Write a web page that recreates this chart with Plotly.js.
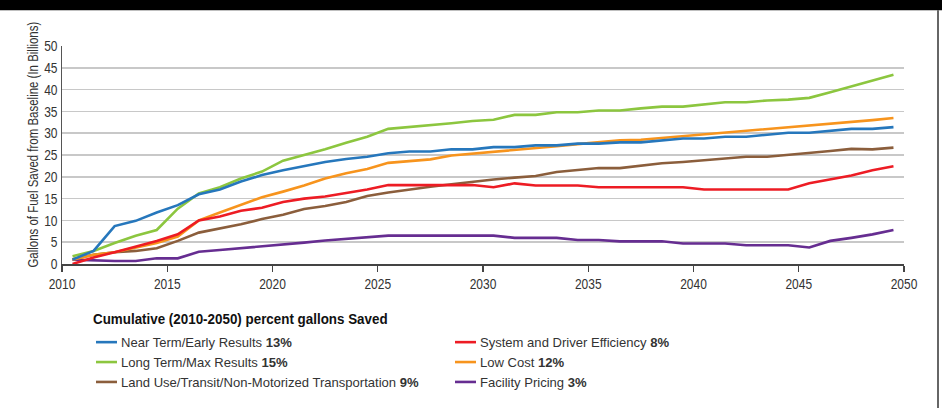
<!DOCTYPE html>
<html>
<head>
<meta charset="utf-8">
<script src="https://cdn.plot.ly/plotly-3.0.1.min.js"></script>
<style>
html,body{margin:0;padding:0;background:#fff;}
#chart{width:942px;height:408px;}
</style>
</head>
<body>
<div id="chart"></div>
<script>
// Years (points sit mid-year, between the year ticks)
const years = [2010,2011,2012,2013,2014,2015,2016,2017,2018,2019,2020,2021,2022,2023,2024,2025,2026,2027,2028,2029,2030,2031,2032,2033,2034,2035,2036,2037,2038,2039,2040,2041,2042,2043,2044,2045,2046,2047,2048,2049];

const nearTerm = [1.0,3.0,8.7,9.9,11.8,13.5,16.0,17.1,18.9,20.4,21.5,22.5,23.4,24.1,24.6,25.4,25.8,25.8,26.3,26.3,26.8,26.8,27.2,27.2,27.6,27.6,27.9,27.9,28.3,28.8,28.8,29.2,29.2,29.6,30.1,30.1,30.5,31.0,31.0,31.4];
const longTerm = [1.8,3.0,4.8,6.5,7.8,12.7,16.2,17.6,19.6,21.2,23.7,25.0,26.3,27.8,29.2,31.0,31.4,31.9,32.3,32.8,33.1,34.2,34.2,34.8,34.8,35.2,35.2,35.7,36.1,36.1,36.6,37.1,37.1,37.5,37.7,38.1,39.4,40.7,42.0,43.4];
const landUse = [1.1,2.1,2.7,3.0,3.6,5.3,7.2,8.1,9.1,10.3,11.3,12.6,13.3,14.2,15.6,16.4,17.1,17.7,18.3,18.9,19.4,19.8,20.2,21.1,21.5,22.0,22.0,22.6,23.1,23.4,23.8,24.2,24.6,24.6,25.0,25.5,25.9,26.4,26.3,26.7];
const systemEff = [0.0,1.5,2.7,4.0,5.3,6.8,10.0,10.9,12.2,12.9,14.2,15.0,15.5,16.3,17.1,18.1,18.1,18.1,18.1,18.1,17.6,18.5,18.0,18.0,18.0,17.6,17.6,17.6,17.6,17.6,17.1,17.1,17.1,17.1,17.1,18.5,19.4,20.3,21.5,22.4];
const lowCost = [1.0,2.1,2.7,3.8,4.8,6.3,10.0,11.8,13.5,15.3,16.6,18.0,19.6,20.8,21.8,23.2,23.6,24.0,24.9,25.3,25.7,26.1,26.5,27.0,27.5,27.9,28.4,28.5,28.9,29.3,29.7,30.1,30.5,31.0,31.4,31.8,32.2,32.6,33.0,33.5];
const facility = [1.0,0.8,0.7,0.7,1.3,1.3,2.8,3.2,3.6,4.1,4.5,4.9,5.4,5.8,6.1,6.5,6.5,6.5,6.5,6.5,6.5,6.0,6.0,6.0,5.5,5.5,5.2,5.2,5.2,4.7,4.7,4.7,4.3,4.3,4.3,3.8,5.3,6.0,6.8,7.8];

const seriesNames = [
  'Near Term/Early Results <b>13%</b>',
  'System and Driver Efficiency <b>8%</b>',
  'Long Term/Max Results <b>15%</b>',
  'Low Cost <b>12%</b>',
  'Land Use/Transit/Non-Motorized Transportation <b>9%</b>',
  'Facility Pricing <b>3%</b>'
];
const seriesData = [nearTerm, systemEff, longTerm, lowCost, landUse, facility];
const seriesColors = ['#2677bc','#ed1c24','#8cc63f','#f7941d','#8b5e3c','#662d91'];

const xTickVals = [2010,2015,2020,2025,2030,2035,2040,2045,2050];
const yTickVals = [0,5,10,15,20,25,30,35,40,45,50];
const yTitle = 'Gallons of Fuel Saved from Baseline (In Billions)';
const legendTitle = 'Cumulative (2010-2050) percent gallons Saved';

const xMid = years.map(y => y + 0.5);

const traces = seriesData.map((d, i) => ({
  type: 'scatter',
  mode: 'lines',
  x: xMid,
  y: d,
  name: seriesNames[i],
  legendrank: i + 1,
  line: {color: seriesColors[i], width: 2.6}
}));

// draw order so overlapping lines look like the reference
const drawOrder = [5,4,3,1,2,0];
const ordered = drawOrder.map(i => traces[i]);

const FONT = '"Liberation Sans", Arial, sans-serif';

const W = 842, H = 219, L = 62, T = 46;
const px = v => (v - L) / W;
const py = v => (T + H - v) / H;

const layout = {
  width: 942, height: 408,
  margin: {l: L, r: 942 - L - W, t: T, b: 408 - T - H},
  paper_bgcolor: '#ffffff', plot_bgcolor: '#ffffff',
  font: {family: FONT, size: 13, color: '#333333'},
  showlegend: true,
  xaxis: {
    range: [2010, 2050],
    tickvals: xTickVals,
    ticktext: xTickVals.map(String),
    showgrid: false,
    zeroline: false,
    showline: true, linecolor: '#444444', linewidth: 1.5,
    ticks: 'outside', ticklen: 6, tickcolor: '#444444', tickwidth: 1.2,
    tickfont: {family: FONT, size: 15, color: '#333333'}
  },
  yaxis: {
    range: [0, 50],
    tickvals: yTickVals,
    showgrid: true, gridcolor: '#c8c8c8', gridwidth: 1.5,
    zeroline: false,
    showline: true, linecolor: '#555555', linewidth: 1.5,
    ticks: '',
    tickfont: {family: FONT, size: 15, color: '#333333'}
  },
  annotations: [{
    text: yTitle, xref: 'paper', yref: 'paper',
    x: px(33), y: py(145), xanchor: 'center', yanchor: 'middle',
    textangle: -90, showarrow: false,
    font: {family: FONT, size: 15, color: '#333333'}
  }],
  legend: {
    orientation: 'h',
    x: px(91), xanchor: 'left',
    y: py(309), yanchor: 'top',
    entrywidth: 314, entrywidthmode: 'pixels',
    traceorder: 'normal',
    font: {family: FONT, size: 13, color: '#333333'},
    title: {text: '<b>' + legendTitle + '</b>', side: 'top', font: {family: FONT, size: 14, color: '#111111'}},
    bgcolor: 'rgba(0,0,0,0)',
    itemwidth: 30
  },
  shapes: [
    {type: 'rect', xref: 'paper', yref: 'paper', x0: px(-5), x1: px(950), y0: py(10), y1: py(-5), fillcolor: '#000000', line: {width: 0}, layer: 'above'},
    {type: 'line', xref: 'paper', yref: 'paper', x0: px(938), x1: px(938), y0: py(10), y1: py(410), line: {color: '#333333', width: 1.5}, layer: 'above'}
  ]
};

// narrow the text horizontally to imitate the condensed face of the original
function condense(el, s, dx, dy) {
  if (el.getAttribute('data-orig') === null) el.setAttribute('data-orig', el.getAttribute('transform') || '');
  const x = parseFloat(el.getAttribute('x')) || 0;
  el.setAttribute('transform', el.getAttribute('data-orig') + ' translate(' + ((dx || 0) + x) + ',' + (dy || 0) + ') scale(' + s + ',1) translate(' + (-x) + ',0)');
}

function finish(gd) {
  // tick labels
  gd.querySelectorAll('.xtick text, .ytick text').forEach(t => condense(t, 0.8));
  // y title: fit to the length it has in the original
  gd.querySelectorAll('.annotation-text').forEach(t => {
    const len = t.getComputedTextLength();
    condense(t, 246 / len);
  });
  // legend title
  gd.querySelectorAll('.legendtitletext').forEach(t => {
    const len = t.getComputedTextLength();
    condense(t, 295 / len, 0, -3);
  });
  // legend item text + shorter legend lines
  let factor = 0.9;
  gd.querySelectorAll('.legendtext').forEach(t => {
    if (t.textContent.indexOf('Land Use') === 0) factor = 298 / t.getComputedTextLength();
  });
  gd.querySelectorAll('.legendtext').forEach(t => {
    t.setAttribute('x', 30);
    condense(t, factor);
  });
  gd.querySelectorAll('.legendlines path').forEach(p => p.setAttribute('d', 'M5,0h21'));
}

Plotly.newPlot('chart', ordered, layout, {displayModeBar: false, staticPlot: true}).then(finish);
</script>
</body>
</html>
